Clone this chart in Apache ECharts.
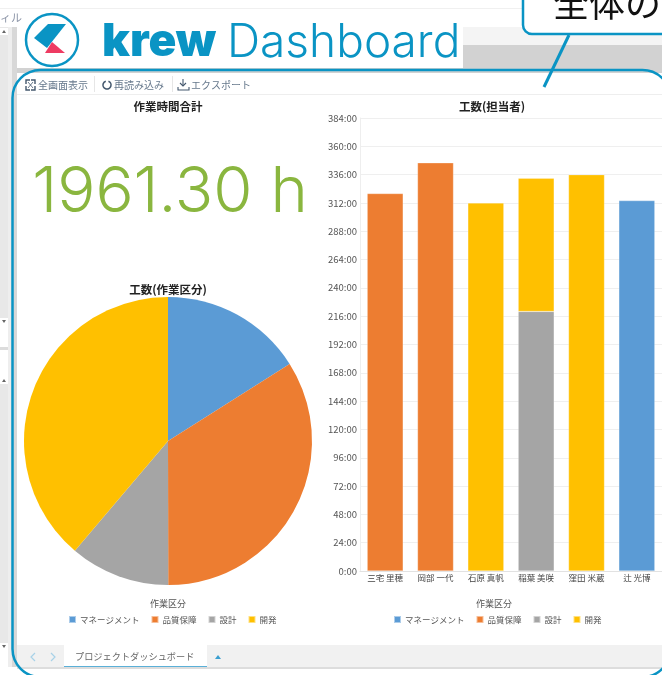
<!DOCTYPE html>
<html>
<head>
<meta charset="utf-8">
<style>
  html, body { margin: 0; padding: 0; background: #fff; overflow: hidden; }
  #main { width: 662px; height: 675px; }
</style>
<script src="https://cdn.jsdelivr.net/npm/echarts@6/dist/echarts.min.js"></script>
</head>
<body>
<div id="main"></div>
<script>
// data (hours)
var kinds = ['マネージメント', '品質保障', '設計', '開発'];
var kindColors = ['#5b9bd5', '#ed7d31', '#a5a5a5', '#ffc000'];
var members = ['三宅 里穂', '岡部 一代', '石原 真帆', '稲葉 美咲', '窪田 米蔵', '辻 光博'];
var managementHours = [null, null, null, null, null, 314];
var qualityHours = [320, 346, null, null, null, null];
var designHours = [null, null, null, 220, null, null];
var devHours = [null, null, 312, 113, 336, null];
var pieHours = [314, 666, 220, 761];
var totalLabel = '1961.30 h';

var FONT = '"Noto Sans CJK JP", sans-serif';
var BLUE = '#0a94c4';
var TOOL = '#66788c';
var ICON = '#44586e';

function rect(x, y, w, h, fill, z) {
  return { type: 'rect', shape: { x: x, y: y, width: w, height: h }, style: { fill: fill }, z: z || 0, silent: true };
}
function text(str, x, y, font, fill, z) {
  return { type: 'text', style: { text: str, x: x, y: y, font: font, fill: fill, textVerticalAlign: 'middle' }, z: z || 1, silent: true };
}
function poly(points, fill, z) {
  return { type: 'polygon', shape: { points: points }, style: { fill: fill }, z: z || 1, silent: true };
}
function pen(points, color, width) {
  return { type: 'polyline', shape: { points: points }, style: { fill: 'none', stroke: color, lineWidth: width }, z: 1, silent: true };
}

var chrome = [
  // side panel and window background
  rect(0, 8, 662, 1, '#f0f0f0'),
  rect(0, 27, 8, 293, '#e8e8e8'),
  rect(0, 28, 8, 7, '#ffffff'),
  poly([[2, 33], [6, 33], [4, 30]], '#666666'),
  rect(0, 318, 8, 7, '#ffffff'),
  poly([[2, 320], [6, 320], [4, 323]], '#666666'),
  rect(0, 347, 8, 3, '#dcdcdc'),
  rect(0, 376, 8, 269, '#e8e8e8'),
  rect(0, 376, 8, 8, '#ffffff'),
  poly([[2, 382], [6, 382], [4, 379]], '#666666'),
  rect(0, 643, 8, 7, '#ffffff'),
  poly([[2, 645], [6, 645], [4, 648]], '#666666'),
  rect(8, 27, 4, 640, '#eeeeee'),
  rect(12, 27, 5, 640, '#d8d8d8'),
  text('ィル', 0, 18, '11px ' + FONT, '#8a93a6'),
  // grey band behind the logo
  rect(463, 27, 199, 18, '#f4f4f4'),
  rect(463, 45, 199, 25, '#d2d2d2'),
  rect(17, 68, 645, 5, '#d2d2d2'),
  rect(17, 27, 446, 41, '#ffffff'),
  // logo
  { type: 'circle', shape: { cx: 52, cy: 40, r: 26 }, style: { fill: '#fff', stroke: BLUE, lineWidth: 2.5 }, z: 1, silent: true },
  poly([[48, 24], [66, 24], [47, 48], [34, 38]], BLUE),
  poly([[52, 42], [65, 53], [45, 53]], '#ee3b62'),
  text('krew', 102, 42, '900 46px Inter, sans-serif', BLUE),
  text('Dashboard', 227, 43, '300 46px Inter, sans-serif', BLUE),
  // toolbar
  rect(17, 73, 645, 21, '#ffffff'),
  rect(17, 94, 645, 1, '#eeeeee'),
  rect(94, 76, 1, 16, '#e6e6e6'),
  rect(172, 76, 1, 16, '#e6e6e6'),
  pen([[26, 84], [26, 80], [30, 80]], ICON, 1.4),
  pen([[31, 80], [35, 80], [35, 84]], ICON, 1.4),
  pen([[26, 86], [26, 90], [30, 90]], ICON, 1.4),
  pen([[31, 90], [35, 90], [35, 86]], ICON, 1.4),
  pen([[28, 82], [33, 88]], ICON, 0.8),
  pen([[33, 82], [28, 88]], ICON, 0.8),
  text('全画面表示', 38, 85, '10px ' + FONT, TOOL),
  { type: 'arc', shape: { cx: 107, cy: 85, r: 4, startAngle: -1.2, endAngle: 4.4 }, style: { fill: 'none', stroke: ICON, lineWidth: 1.6 }, z: 1, silent: true },
  text('再読み込み', 114, 85, '10px ' + FONT, TOOL),
  pen([[183, 79], [183, 86]], ICON, 1.1),
  pen([[180, 83], [183, 86], [186, 83]], ICON, 1.1),
  pen([[178, 87], [178, 90], [189, 90], [189, 87]], ICON, 1.1),
  text('エクスポート', 191, 85, '10px ' + FONT, TOOL),
  // tab bar
  rect(17, 645, 645, 22, '#f1f1f1'),
  rect(17, 667, 645, 2, '#dddddd'),
  rect(64, 645, 143, 21, '#ffffff'),
  rect(64, 666, 143, 1, '#5ab0d8'),
  pen([[35, 653], [31, 657], [35, 661]], '#a8d2e8', 1.2),
  pen([[51, 653], [55, 657], [51, 661]], '#a8d2e8', 1.2),
  text('プロジェクトダッシュボード', 75, 657, '9.2px ' + FONT, '#666666'),
  poly([[215, 659], [221, 659], [218, 655]], '#3a9fd0'),
  // callout and outline on top of everything
  { type: 'rect', shape: { x: 12.5, y: 70, width: 658, height: 607, r: 28 }, style: { fill: 'none', stroke: BLUE, lineWidth: 2.5 }, z: 50, silent: true },
  { type: 'line', shape: { x1: 569, y1: 35, x2: 544, y2: 87 }, style: { stroke: BLUE, lineWidth: 3 }, z: 51, silent: true },
  { type: 'rect', shape: { x: 523, y: -30, width: 180, height: 64, r: 9 }, style: { fill: '#fff', stroke: BLUE, lineWidth: 2.5 }, z: 52, silent: true },
  text('全体の', 553, 3, '36px ' + FONT, '#111111', 53)
];

function heading(str, x, y, size, weight, color, family) {
  return { text: str, left: x, top: y, textAlign: 'center', padding: 0, textStyle: { fontFamily: family || FONT, fontSize: size, fontWeight: weight, color: color } };
}
function legendAt(x) {
  return {
    data: kinds, left: x, top: 615, icon: 'rect', itemWidth: 7, itemHeight: 7, itemGap: 11, padding: 0, selectedMode: false,
    textStyle: { fontFamily: FONT, fontSize: 8.5, color: '#555', padding: [0, 0, 0, -1] }
  };
}
function stackSeries(i, values) {
  return {
    name: kinds[i], type: 'bar', stack: 'hours', data: values, barWidth: 36,
    itemStyle: { color: kindColors[i], borderColor: 'rgba(255,255,255,0.5)', borderWidth: 0.5 }
  };
}

var chart = echarts.init(document.getElementById('main'));
chart.setOption({
  animation: false,
  textStyle: { fontFamily: FONT },
  title: [
    heading('作業時間合計', 168, 101, 11.5, 'bold', '#222'),
    heading('工数(作業区分)', 168, 284, 11.5, 'bold', '#222'),
    heading('工数(担当者)', 492, 101, 11.5, 'bold', '#222'),
    heading('作業区分', 168, 599, 9, 'normal', '#555'),
    heading('作業区分', 494, 599, 9, 'normal', '#555'),
    heading(totalLabel, 170, 161, 63.5, 300, '#8ab63f', 'Inter, sans-serif')
  ],
  legend: [legendAt(68), legendAt(393)],
  grid: { left: 360, top: 118, width: 302.4, height: 453 },
  xAxis: {
    type: 'category', data: members,
    axisLine: { lineStyle: { color: '#e2e2e2' } }, axisTick: { show: false },
    axisLabel: { fontSize: 8.5, color: '#444', margin: 3, interval: 0 }
  },
  yAxis: {
    type: 'value', min: 0, max: 384, interval: 24,
    axisLine: { show: true, lineStyle: { color: '#eeeeee' } }, axisTick: { show: false },
    splitLine: { lineStyle: { color: '#efefef' } },
    axisLabel: { fontSize: 9.5, color: '#555', margin: 3, formatter: function (v) { return v + ':00'; } }
  },
  series: [
    stackSeries(0, managementHours),
    stackSeries(1, qualityHours),
    stackSeries(2, designHours),
    stackSeries(3, devHours),
    {
      type: 'pie', center: [168, 441], radius: 144, startAngle: 90, label: { show: false }, labelLine: { show: false },
      data: kinds.map(function (k, i) {
        return { name: k, value: pieHours[i], itemStyle: { color: kindColors[i] } };
      })
    }
  ],
  graphic: { elements: chrome }
});
</script>
</body>
</html>
